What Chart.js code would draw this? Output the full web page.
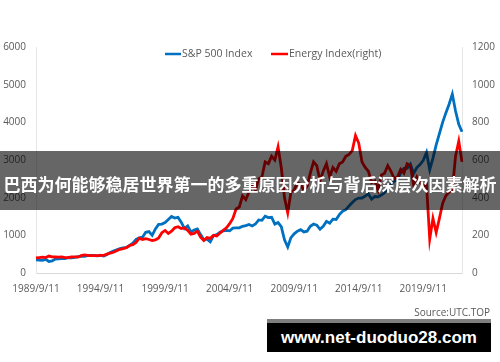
<!DOCTYPE html>
<html>
<head>
<meta charset="utf-8">
<script src="https://cdn.jsdelivr.net/npm/chart.js@4/dist/chart.umd.min.js"></script>
<style>
  html, body { margin: 0; padding: 0; background: #fff; }
  #wrap { position: relative; width: 500px; height: 362px; overflow: hidden; }
  #c { position: absolute; left: 0; top: 0; }
  #band { position: absolute; left: 0; top: 151px; width: 500px; height: 59px; background: rgba(0,0,0,0.6);
          color: #fff; font: bold 17px "Noto Sans CJK SC", sans-serif; line-height: 59px; text-align: center;
          white-space: nowrap; letter-spacing: 0px; }
  #band span { position: relative; top: 3px; }
  #source { position: absolute; right: 10px; top: 305px; font: 10px "Open Sans", sans-serif; color: #595959; }
  #wm { position: absolute; left: 267px; top: 319px; width: 224px; height: 29px; background: #000;
        border-top: 4px solid #7f7f7f; color: #fff; font: bold 17px "Liberation Sans", sans-serif;
        text-align: center; line-height: 29px; }
</style>
</head>
<body>
<div id="wrap">
  <canvas id="c" width="500" height="362"></canvas>
  <div id="band"><span>巴西为何能够稳居世界第一的多重原因分析与背后深层次因素解析</span></div>
  <div id="source">Source:UTC.TOP</div>
  <div id="wm">www.net-duoduo28.com</div>
</div>
<script>
// Quarterly dates from 1989/9/11 to 2022/9/11
const startYear = 1989, startMonth = 9, quarterCount = 133;
const dates = [];
for (let i = 0; i < quarterCount; i++) {
  const m0 = startMonth - 1 + i * 3;
  dates.push((startYear + Math.floor(m0 / 12)) + '/' + (m0 % 12 + 1) + '/11');
}
const tickLabels = ['1989/9/11','1994/9/11','1999/9/11','2004/9/11','2009/9/11','2014/9/11','2019/9/11'];

const seriesNames = ['S&P 500 Index', 'Energy Index(right)'];

// S&P 500 Index (left axis), quarterly
const spx = [
  350,345,338,362,305,320,370,375,385,385,
  405,405,415,435,450,445,460,465,465,455,
  470,450,490,545,585,615,645,670,680,730,
  790,890,935,950,1080,1100,1000,1170,1290,1300,
  1340,1420,1500,1460,1480,1350,1180,1250,1090,1140,
  1170,1020,880,900,830,990,1020,1080,1120,1130,
  1120,1190,1200,1200,1240,1260,1290,1250,1300,1410,
  1400,1510,1470,1480,1300,1340,1230,880,690,940,
  1040,1110,1150,1090,1110,1240,1300,1270,1160,1240,
  1370,1320,1430,1420,1550,1640,1680,1780,1870,1950,
  1990,1990,2040,2100,1960,2030,2020,2070,2130,2260,
  2370,2430,2490,2660,2780,2780,2890,2640,2800,2880,
  2990,3200,2740,3050,3400,3700,4000,4250,4480,4750,
  4300,3950,3750
];

// Energy Index (right axis), quarterly
const energy = [
  80,82,84,82,90,86,85,84,86,82,
  82,86,86,84,92,96,94,92,92,92,
  94,94,100,106,110,118,126,130,134,146,
  150,162,185,178,182,178,172,176,186,214,
  226,210,222,240,246,236,240,226,206,210,
  222,190,172,188,184,200,196,212,226,240,
  262,290,340,350,410,390,430,460,440,500,
  510,590,580,620,600,670,560,400,320,430,
  440,480,470,440,460,530,590,570,490,540,
  580,510,560,540,580,590,620,630,650,730,
  690,590,560,540,480,490,440,520,530,570,
  540,500,510,550,530,580,570,470,510,480,
  460,470,180,290,215,290,370,410,430,440,
  620,700,590
];

const colors = ['#0070C0', '#FF0000'];

const legendPlugin = {
  id: 'customLegend',
  afterDraw(chart) {
    const ctx = chart.ctx;
    const items = [
      { x0: 165, x1: 181, tx: 182 },
      { x0: 271, x1: 288, tx: 289 }
    ];
    ctx.save();
    ctx.font = '10.5px "Open Sans", sans-serif';
    ctx.textBaseline = 'middle';
    items.forEach((it, i) => {
      ctx.strokeStyle = colors[i];
      ctx.lineWidth = 2.5;
      ctx.beginPath();
      ctx.moveTo(it.x0, 54);
      ctx.lineTo(it.x1, 54);
      ctx.stroke();
      ctx.fillStyle = '#595959';
      ctx.fillText(chart.data.datasets[i].label, it.tx, 54);
    });
    ctx.restore();
  }
};

const tickFont = { family: '"Open Sans", sans-serif', size: 10 };
const plainNum = v => String(v);

new Chart(document.getElementById('c'), {
  type: 'line',
  data: {
    labels: dates,
    datasets: [
      { label: seriesNames[0], data: spx, yAxisID: 'y', borderColor: colors[0], backgroundColor: colors[0],
        borderWidth: 2.8, pointRadius: 0, tension: 0, order: 1 },
      { label: seriesNames[1], data: energy, yAxisID: 'y1', borderColor: colors[1], backgroundColor: colors[1],
        borderWidth: 2.8, pointRadius: 0, tension: 0, order: 0 }
    ]
  },
  options: {
    responsive: false,
    animation: false,
    layout: { padding: { top: 47, left: 0, right: 0, bottom: 0 } },
    plugins: { legend: { display: false }, tooltip: { enabled: false } },
    scales: {
      x: {
        type: 'category',
        grid: { display: false, drawTicks: false },
        border: { display: true, color: '#d9d9d9', width: 1 },
        ticks: {
          autoSkip: false, maxRotation: 0, minRotation: 0, padding: 10,
          color: '#595959', font: tickFont,
          callback: function(v, idx) { const l = dates[idx]; return tickLabels.includes(l) ? l : ''; }
        },
        afterFit: s => { s.height = 89; }
      },
      y: {
        position: 'left', min: 0, max: 6000,
        grid: { display: false, drawTicks: false },
        border: { display: true, color: '#e6e6e6', width: 1 },
        ticks: { stepSize: 1000, padding: 10, color: '#595959', font: tickFont, callback: plainNum },
        afterFit: s => { s.width = 36; }
      },
      y1: {
        position: 'right', min: 0, max: 1200,
        grid: { display: false, drawTicks: false },
        border: { display: true, color: '#e6e6e6', width: 1 },
        ticks: { stepSize: 200, padding: 10, color: '#595959', font: tickFont, callback: plainNum },
        afterFit: s => { s.width = 38; }
      }
    }
  },
  plugins: [legendPlugin]
});
</script>
</body>
</html>
